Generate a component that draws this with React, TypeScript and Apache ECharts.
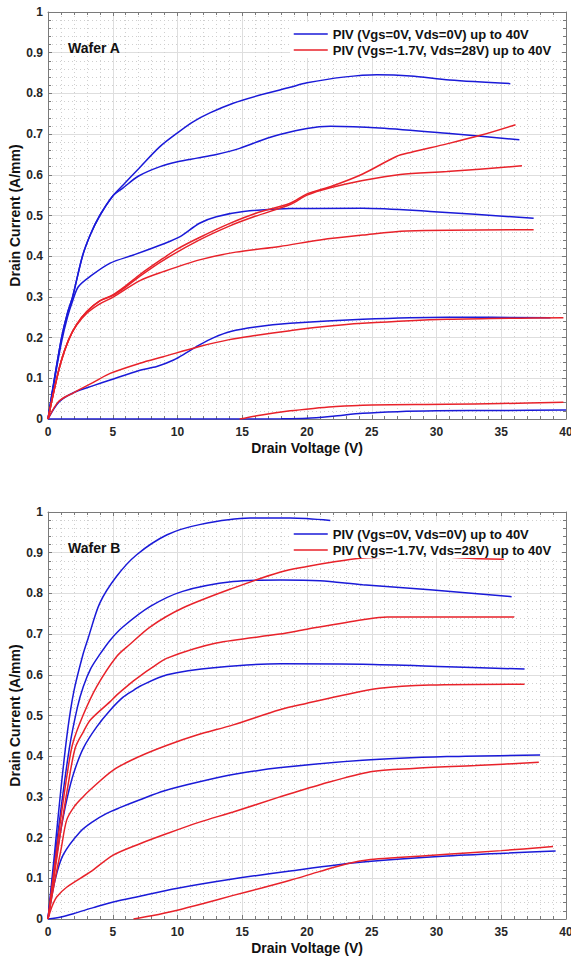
import React, { useEffect, useRef } from "react";
import * as echarts from "echarts";

const LEGEND_BLUE = "PIV (Vgs=0V, Vds=0V) up to 40V";
const LEGEND_RED = "PIV (Vgs=-1.7V, Vds=28V) up to 40V";
const X_AXIS_NAME = "Drain Voltage (V)";
const Y_AXIS_NAME = "Drain Current (A/mm)";
const PANEL_TITLES = ["Wafer A", "Wafer B"];

// Wafer A — [Vds (V), Id (A/mm)]
const waferA_blue1 = [[0,0],[0.5,0.1],[1.05,0.2],[1.5,0.26],[1.9,0.3],[2.66,0.4],[3.3,0.455],[4,0.5],[5,0.548],[5.8,0.575],[7,0.615],[8.6,0.668],[10,0.703],[11.2,0.73],[12.5,0.752],[14.3,0.776],[16.5,0.797],[18.7,0.815],[20,0.826],[22.8,0.84],[25.4,0.846],[28,0.843],[31,0.833],[35.7,0.824]];
const waferA_blue2 = [[0,0],[0.5,0.1],[1.05,0.2],[1.5,0.26],[1.9,0.3],[2.66,0.4],[3.3,0.455],[4,0.5],[5,0.548],[5.8,0.568],[7,0.597],[8.65,0.62],[10,0.632],[11.5,0.641],[13,0.65],[14.8,0.665],[16.5,0.685],[17.9,0.699],[20,0.714],[21.8,0.719],[25.6,0.715],[30.8,0.702],[36.4,0.686]];
const waferA_blue3 = [[0,0],[0.5,0.095],[1.05,0.19],[1.5,0.25],[1.9,0.29],[2.34,0.325],[3.24,0.35],[4.8,0.383],[6.6,0.403],[8.9,0.43],[10.2,0.448],[11.7,0.481],[13,0.497],[15.1,0.51],[18.7,0.517],[24.3,0.518],[29.5,0.51],[37.5,0.493]];
const waferA_blue4 = [[0,0],[0.85,0.042],[2,0.065],[3.5,0.082],[4.8,0.096],[7.1,0.12],[8.4,0.129],[9.7,0.145],[10.7,0.163],[11.7,0.182],[12.8,0.2],[14.1,0.215],[16,0.226],[18.7,0.235],[24.3,0.245],[30.8,0.25],[38.8,0.249]];
const waferA_blue5 = [[0,0],[15,0],[18,0.0005],[20,0.002],[22,0.007],[24.3,0.014],[27,0.018],[30,0.02],[35,0.021],[40,0.022]];
const waferA_red1 = [[0,0],[0.5,0.075],[1,0.14],[1.6,0.195],[2.2,0.232],[3,0.264],[4,0.29],[5,0.305],[6,0.327],[7.1,0.355],[8.9,0.395],[10,0.418],[11.7,0.446],[14,0.48],[16,0.505],[18.7,0.53],[20,0.553],[22,0.573],[24.3,0.602],[26.9,0.645],[28,0.655],[30.8,0.676],[33.4,0.697],[36.1,0.723]];
const waferA_red2 = [[0,0],[0.5,0.075],[1,0.14],[1.6,0.195],[2.2,0.232],[3,0.264],[4,0.29],[5,0.303],[6,0.324],[7.1,0.351],[8.9,0.39],[11.7,0.44],[14,0.474],[16,0.498],[18.7,0.527],[20,0.55],[21.8,0.568],[24.3,0.586],[27.2,0.601],[30.8,0.608],[36.6,0.622]];
const waferA_red3 = [[0,0],[0.5,0.075],[1,0.14],[1.6,0.195],[2.2,0.23],[3,0.26],[4,0.283],[5,0.299],[7.1,0.34],[8.9,0.362],[11.7,0.391],[14.5,0.41],[17.9,0.424],[21,0.44],[24.3,0.452],[27.7,0.462],[37.5,0.465]];
const waferA_red4 = [[0,0],[0.85,0.044],[2,0.065],[3.5,0.09],[4.8,0.112],[7.1,0.137],[8.9,0.153],[11.7,0.178],[14,0.195],[16,0.205],[18.7,0.217],[21,0.226],[24.3,0.235],[30.8,0.245],[39.8,0.249]];
const waferA_red5 = [[14.8,0],[16.5,0.01],[18.7,0.02],[20.5,0.026],[22,0.03],[24.3,0.034],[30.8,0.036],[35,0.038],[39.8,0.041]];

// Wafer B — [Vds (V), Id (A/mm)]
const waferB_blue1 = [[0,0],[0.5,0.16],[1,0.32],[1.5,0.46],[2,0.56],[2.7,0.65],[3.1,0.69],[4,0.776],[5.3,0.842],[6.85,0.895],[9.2,0.944],[11.7,0.969],[15.6,0.985],[18.7,0.985],[21.8,0.979]];
const waferB_blue2 = [[0,0],[0.5,0.14],[1,0.27],[1.65,0.42],[2.27,0.52],[2.73,0.571],[3.3,0.615],[4,0.65],[4.8,0.685],[5.8,0.718],[7.9,0.768],[10.4,0.805],[14.3,0.829],[18,0.833],[21,0.831],[24.3,0.821],[29.5,0.809],[35.8,0.792]];
const waferB_blue3 = [[0,0],[0.5,0.12],[1,0.22],[1.5,0.3],[2,0.36],[2.73,0.42],[3.76,0.472],[4.8,0.513],[5.8,0.545],[6.6,0.562],[7.1,0.572],[9.2,0.6],[13,0.618],[18,0.627],[24.3,0.626],[30.8,0.62],[36.8,0.614]];
const waferB_blue4 = [[0,0],[0.54,0.095],[1.18,0.158],[2.47,0.214],[3.5,0.24],[4.5,0.259],[5.5,0.273],[7.1,0.293],[9,0.315],[11.7,0.337],[14.5,0.356],[18,0.372],[24.3,0.39],[30.8,0.399],[38,0.403]];
const waferB_blue5 = [[0,0],[1,0.005],[1.96,0.013],[3.5,0.028],[5.04,0.042],[7.1,0.056],[9.9,0.075],[14,0.097],[18.7,0.118],[24.3,0.14],[30.8,0.155],[39.2,0.167]];
const waferB_red1 = [[0,0],[0.5,0.13],[1,0.25],[1.5,0.36],[1.9,0.43],[2.7,0.5],[3.76,0.571],[5.3,0.645],[6.33,0.675],[7.9,0.718],[10.4,0.764],[14.3,0.813],[17.9,0.852],[20,0.866],[22,0.877],[24.3,0.887],[26,0.889],[30,0.89],[33.4,0.885],[35.2,0.884]];
const waferB_red2 = [[0,0],[0.5,0.11],[1,0.22],[1.5,0.32],[2.1,0.42],[2.73,0.46],[3.3,0.49],[4.8,0.534],[5.3,0.55],[6.6,0.585],[7.1,0.597],[8,0.617],[9.2,0.641],[13,0.678],[17.9,0.7],[20,0.712],[24.3,0.735],[26.2,0.742],[36,0.742]];
const waferB_red3 = [[0,0],[0.5,0.09],[1,0.17],[1.44,0.243],[2,0.275],[2.7,0.3],[3.24,0.317],[5.04,0.366],[7.1,0.4],[9.2,0.427],[11.5,0.452],[14.3,0.477],[17.9,0.514],[20,0.53],[22.5,0.548],[25.6,0.567],[29.5,0.575],[36.8,0.577]];
const waferB_red4 = [[0,0],[0.3,0.03],[0.67,0.054],[1.44,0.078],[3.24,0.115],[5.04,0.157],[7.1,0.185],[9.2,0.21],[11.7,0.238],[14.3,0.263],[17.9,0.3],[21,0.33],[24.9,0.362],[28.2,0.37],[33,0.377],[37.9,0.385]];
const waferB_red5 = [[6.6,0],[8,0.008],[9.9,0.021],[12,0.038],[14.3,0.058],[16.5,0.076],[18.7,0.095],[21,0.117],[23.1,0.136],[24.9,0.146],[27,0.151],[30.8,0.159],[35,0.168],[39,0.178]];

const BLUE = "#1a1ad8";
const RED = "#e8222a";
const AXIS_GRAY = "#7a7a7a";
const FONT = "'Liberation Sans', Arial, sans-serif";

const panels = [
  { blue: [waferA_blue1, waferA_blue2, waferA_blue3, waferA_blue4, waferA_blue5], red: [waferA_red1, waferA_red2, waferA_red3, waferA_red4, waferA_red5] },
  { blue: [waferB_blue1, waferB_blue2, waferB_blue3, waferB_blue4, waferB_blue5], red: [waferB_red1, waferB_red2, waferB_red3, waferB_red4, waferB_red5] },
];

const GRID_TOPS = [12, 512];
const GRID_H = 407;

function buildOption() {
  const grid: any[] = [];
  const xAxis: any[] = [];
  const yAxis: any[] = [];
  const series: any[] = [];
  const legend: any[] = [];
  const graphic: any[] = [];

  const tickLabel = { fontFamily: FONT, fontWeight: "bold", fontSize: 12, color: "#262626" };
  const nameStyle = { fontFamily: FONT, fontWeight: "bold", fontSize: 14, color: "#111" };

  panels.forEach((p, gi) => {
    grid.push({ left: 48, top: GRID_TOPS[gi], width: 518, height: GRID_H, containLabel: false, outerBoundsMode: "none" });
    const common = {
      type: "value",
      gridIndex: gi,
      axisLine: { show: true, onZero: false, lineStyle: { color: AXIS_GRAY, width: 1 } },
      axisTick: { show: true, inside: true, length: 4, lineStyle: { color: AXIS_GRAY } },
      minorTick: { show: true, splitNumber: 5, length: 3, lineStyle: { color: AXIS_GRAY } },
    };
    xAxis.push({
      ...common, position: "bottom", min: 0, max: 40, interval: 5,
      splitLine: { show: true, lineStyle: { color: "#dedede", width: 1 } },
      minorSplitLine: { show: true, lineStyle: { color: "#cfcfcf", width: 1, type: [1, 3] } },
      axisLabel: { ...tickLabel, margin: 7 },
      name: X_AXIS_NAME, nameLocation: "middle", nameGap: 22, nameMoveOverlap: false, nameTextStyle: nameStyle,
    });
    xAxis.push({
      ...common, position: "top", min: 0, max: 40, interval: 5,
      splitLine: { show: false }, axisLabel: { show: false },
    });
    yAxis.push({
      ...common, position: "left", min: 0, max: 1, interval: 0.1,
      splitLine: { show: true, lineStyle: { color: "#dedede", width: 1 } },
      minorSplitLine: { show: true, lineStyle: { color: "#cfcfcf", width: 1, type: [1, 3] } },
      axisLabel: { ...tickLabel, margin: 5, formatter: (v: number) => (v === 0 ? "0" : v === 1 ? "1" : String(+v.toFixed(1))) },
      name: Y_AXIS_NAME, nameLocation: "middle", nameGap: 26, nameMoveOverlap: false, nameTextStyle: nameStyle,
    });
    yAxis.push({
      ...common, position: "right", min: 0, max: 1, interval: 0.1,
      splitLine: { show: false }, axisLabel: { show: false },
    });

    const addSeries = (arr: number[][][], name: string, color: string) => {
      arr.forEach((d) => {
        series.push({
          type: "line", name, data: d, xAxisIndex: gi * 2, yAxisIndex: gi * 2,
          symbol: "none", showSymbol: false, smooth: 0.3, color,
          lineStyle: { color, width: 1.5 }, clip: true, z: 3,
        });
      });
    };
    addSeries(p.blue, LEGEND_BLUE, BLUE);
    addSeries(p.red, LEGEND_RED, RED);

    legend.push({
      data: [LEGEND_BLUE, LEGEND_RED], orient: "vertical", left: 290, top: GRID_TOPS[gi] + 10,
      backgroundColor: "#ffffff", padding: [5, 10, 1, 3], itemWidth: 34, itemHeight: 14, itemGap: 2,
      selectedMode: false,
      itemStyle: { opacity: 0 },
      lineStyle: { width: 1.5 },
      textStyle: { fontFamily: FONT, fontWeight: "bold", fontSize: 13, color: "#111", lineHeight: 14 },
    });

    graphic.push({
      type: "text", left: 68, top: GRID_TOPS[gi] + 29, z: 100,
      style: { text: PANEL_TITLES[gi], fontFamily: FONT, fontWeight: "bold", fontSize: 14, fill: "#111" },
    });
  });

  return { animation: false, backgroundColor: "#ffffff", grid, xAxis, yAxis, series, legend, graphic };
}

export default function App() {
  const ref = useRef<HTMLDivElement>(null);
  useEffect(() => {
    document.body.style.margin = "0";
    if (!ref.current) return;
    const chart = echarts.init(ref.current, undefined, { renderer: "svg" });
    chart.setOption(buildOption() as any);
    return () => chart.dispose();
  }, []);
  return <div ref={ref} style={{ width: 571, height: 959, position: "absolute", left: 0, top: 0 }} />;
}
